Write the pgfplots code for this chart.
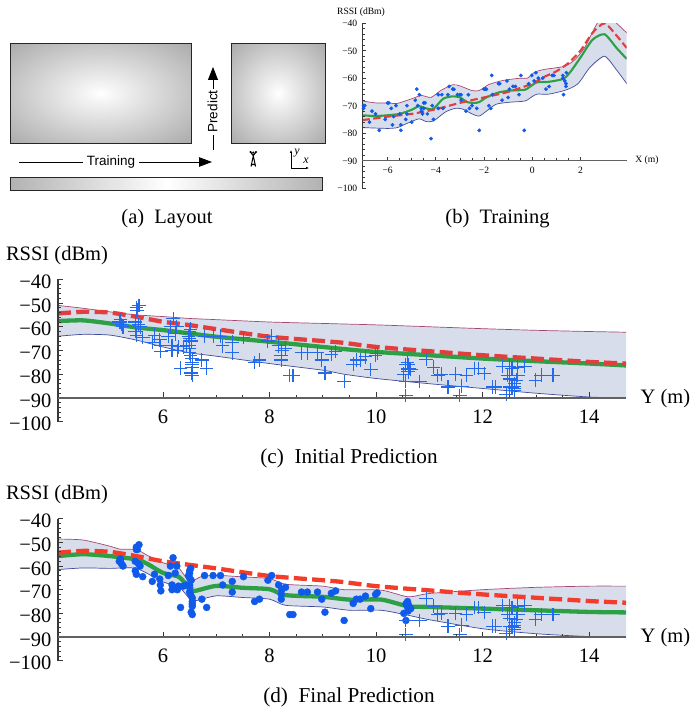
\documentclass[border=0pt]{standalone}
\usepackage{fontspec}
\setmainfont{Liberation Serif}
\setsansfont{Liberation Sans}
\usepackage{pgfplots}
\usepackage{pgfplotstable}
\pgfplotsset{compat=1.18}
\usetikzlibrary{arrows.meta}
\definecolor{bandc}{RGB}{216,221,235}
\definecolor{upc}{RGB}{165,70,115}
\definecolor{loc}{RGB}{65,75,155}
\definecolor{grn}{RGB}{45,160,70}
\definecolor{redc}{RGB}{226,62,62}
\definecolor{redd}{RGB}{243,60,42}
\definecolor{dotc}{RGB}{15,90,235}
\definecolor{plusc}{RGB}{35,105,235}
\newcommand{\fbig}{\fontsize{20.5}{24}\selectfont}
\newcommand{\fcap}{\fontsize{21.2}{24}\selectfont}
\newcommand{\fsmall}{\fontsize{9.6}{11}\selectfont}
\pgfdeclareradialshading{glow}{\pgfpoint{0bp}{0bp}}{color(0bp)=(white); color(5bp)=(black!5); color(35.4bp)=(black!33); color(50bp)=(black!33)}

% ---- Training (b)
\pgfplotstableread{
x y
-7.0 -71
-7.0 -70
-6.95 -70
-6.75 -76
-6.65 -72
-6.5 -73
-6.35 -79
-6.1 -75
-6.0 -69
-5.95 -69
-5.85 -71
-5.8 -77
-5.75 -74
-5.65 -70
-5.5 -73
-5.45 -77
-5.45 -79
-5.25 -75
-5.2 -70
-5.2 -73
-5.0 -76
-4.85 -68
-4.75 -70
-4.6 -72
-4.79 -64
-4.68 -66
-4.6 -71
-4.55 -73
-4.5 -71
-4.5 -69
-4.45 -69
-4.35 -73
-4.2 -82
-4.15 -70
-4.1 -75
-3.9 -66
-3.9 -71
-3.75 -66
-3.7 -71
-3.5 -66
-3.45 -63
-3.3 -64
-3.25 -64
-3.1 -66
-3.0 -66
-2.95 -66
-2.95 -68
-2.75 -72
-2.65 -66
-2.6 -71
-2.5 -70
-2.3 -71
-2.2 -79
-2.0 -64
-1.95 -64
-1.9 -64
-1.8 -70
-1.72 -71
-1.68 -59
-1.65 -66
-1.4 -62
-1.35 -62
-1.25 -68
-1.05 -61
-1.0 -67
-0.95 -64
-0.8 -63
-0.7 -63
-0.55 -66
-0.47 -59
-0.33 -79
-0.15 -62
-0.02 -59
0.08 -61
0.15 -58
0.25 -60
0.43 -60
0.57 -64
0.7 -63
0.83 -59
0.9 -59
1.27 -59
1.27 -60
1.3 -66
1.35 -61
1.4 -62
1.4 -63
1.42 -58
}\trainpts

% ---- prediction points left of the 10.5 m mark
\pgfplotstableread{
x y
5.2 -57
5.2 -58
5.22 -59
5.25 -60
5.18 -58
5.5 -52
5.52 -53
5.55 -51
5.5 -53
5.48 -58
5.48 -62
5.5 -63.5
5.57 -60
5.54 -59
5.62 -64.5
5.8 -66.5
5.84 -63.5
5.94 -65.5
5.95 -68
5.96 -70.5
6.1 -64
6.14 -60
6.17 -68
6.19 -56.5
6.17 -70
6.23 -63
6.26 -60
6.27 -70
6.33 -77.5
6.29 -68.5
6.38 -68.5
6.45 -68
6.48 -64
6.5 -63
6.5 -62
6.52 -61
6.5 -65
6.53 -66
6.5 -68
6.5 -69
6.5 -71
6.52 -72
6.55 -73.5
6.55 -75
6.55 -76
6.55 -77
6.53 -79.5
6.55 -80.5
6.73 -74
6.82 -77.5
6.78 -64
6.94 -64
7.08 -64
7.12 -68
7.3 -66.5
7.3 -71
7.51 -64.5
7.72 -75
7.81 -74
7.97 -66
8.04 -64
8.17 -68
8.22 -72
8.23 -70
8.22 -74
8.3 -69
8.38 -80.5
8.44 -80.5
8.6 -71
8.71 -71
8.9 -71
8.98 -74
9.04 -79.5
9.16 -71.5
9.24 -70.5
9.4 -83
9.57 -75.8
9.63 -74
9.7 -74
9.8 -72.7
9.9 -78
9.99 -72
10.02 -71.3
10.52 -80
10.56 -76
10.59 -75
10.6 -77.5
10.6 -76
10.6 -78
10.6 -79
10.63 -77.6
10.65 -78
10.56 -83
}\ptsA
% ---- points not yet used in the final prediction
\pgfplotstableread{
x y
10.56 -83
10.56 -89
10.82 -83
10.94 -73.8
11.08 -77
11.16 -80.5
11.22 -80
11.35 -85.4
11.49 -80
11.57 -89
11.61 -85
11.7 -80.4
11.84 -77.6
11.93 -77.6
12.03 -79.7
12.19 -85.4
12.24 -85.4
12.38 -76.6
12.44 -88.5
12.47 -80.4
12.5 -76.6
12.5 -85.4
12.5 -82
12.55 -77.5
12.55 -85.4
12.6 -85
12.6 -86
12.6 -87
12.6 -84
12.65 -77
12.66 -80.4
12.63 -82.5
12.79 -76.6
12.99 -82.5
13.1 -80.4
13.32 -80.4
}\ptsB

\pgfplotsset{
  % y axis and data
  ya/.style={
    scale only axis,
    axis x line=none,
    axis y line=left,
    axis line style={-,black!78,line width=1.3pt},
    tick align=inside,
    tick style={black!78,line width=0.8pt},
    clip=true,
    axis on top,
    ymin=-100,ymax=-40,
    ytick={-100,-90,-80,-70,-60,-50,-40},
    minor y tick num=4,
  },
  % x axis, lying at -90
  xa/.style={
    scale only axis,
    axis y line=none,
    axis x line=bottom,
    axis line style={-,black!62,line width=1.5pt},
    tick align=inside,
    tick style={black!78,line width=0.8pt},
    ymin=-90,ymax=-40,
    minor x tick num=3,
  },
  widey/.style={ya,width=568pt,xmin=4.03,xmax=14.69,
    yticklabels={−100,−90,−80,−70,−60,−50,−40},
    major tick length=5.5pt,minor tick length=3pt,
    tick label style={font=\fbig},
    yticklabel style={xshift=-3pt,yshift=-2.5pt},
  },
  widex/.style={xa,width=568pt,xmin=4.03,xmax=14.69,
    xtick={6,8,10,12,14},
    xticklabels={6,8,10,12,14},
    major tick length=5.5pt,minor tick length=3pt,
    tick label style={font=\fbig},
    xticklabel style={yshift=-8.5pt},
  },
  upl/.style={upc,line width=0.7pt,smooth,tension=0.4},
  lol/.style={loc,line width=0.7pt,smooth,tension=0.4},
  gl/.style={grn,line width=4.3pt,smooth,tension=0.4},
  rl/.style={#1,line width=4.3pt,smooth,tension=0.4,dash pattern=on 13pt off 5.3pt},
  plm/.style={only marks,mark=+,mark size=6.8pt,mark options={plusc,line width=1.1pt}},
  band/.style={fill=bandc,draw=none},
}

\begin{document}
\begin{tikzpicture}
\useasboundingbox (0pt,0pt) rectangle (690pt,709pt);

% ---------- (a) layout
\begin{scope}[x=1pt,y=-1pt,shift={(0pt,709pt)}]
\shade[shading=glow] (10,43.5) rectangle (191,143);
\draw[line width=0.9pt,black!85] (10,43.5) rectangle (191,143);
\shade[shading=glow] (231.5,43.5) rectangle (325,143);
\draw[line width=0.9pt,black!85] (231.5,43.5) rectangle (325,143);
\draw[line width=0.9pt,black!85,left color=black!30,right color=black!30,middle color=white] (10,177.5) rectangle (322,190);
\draw[line width=0.8pt] (19,162) -- (83,162);
\draw[line width=0.8pt,-{Triangle[length=13pt,width=9.5pt]}] (139,162) -- (212,162);
\node[font=\sffamily\fontsize{13.5}{15}\selectfont] at (111,162.5) {Training};
\draw[line width=0.8pt] (213,150) -- (213,135);
\draw[line width=0.8pt,-{Triangle[length=13pt,width=10pt]}] (213,89) -- (213,67);
\node[font=\sffamily\fontsize{13.5}{15}\selectfont,rotate=90] at (212.5,111.5) {Predict};
% antenna
\draw[line width=1pt,black] (253.3,156) -- (251,166.5) arc[start angle=180,end angle=360,radius=2.3] -- cycle;
\draw[line width=1.2pt,black] (250.5,152) -- (253.3,155.5) -- (256,152);
\fill (250.5,152) circle (1.1pt) (256,152) circle (1.1pt) (253.3,152.5) circle (1.1pt);
% compass
\draw[line width=0.6pt,-{Latex[length=3pt,width=2.5pt]}] (291,168) -- (291,150);
\draw[line width=0.6pt,-{Latex[length=3pt,width=2.5pt]}] (291,168) -- (309,168);
\node[font=\fontsize{12}{14}\selectfont\itshape] at (297,153) {y};
\node[font=\fontsize{12}{14}\selectfont\itshape] at (306,161) {x};
% captions and labels
\node[font=\fbig] at (167,219) {(a)\ \ Layout};
\node[font=\fbig] at (497.5,219) {(b)\ \ Training};
\node[font=\fcap] at (349,458.5) {(c)\ \ Initial Prediction};
\node[font=\fcap] at (349,697.5) {(d)\ \ Final Prediction};
\node[font=\fbig] at (57,255.5) {RSSI (dBm)};
\node[font=\fbig] at (57,495) {RSSI (dBm)};
\node[font=\fbig] at (665.5,398.5) {Y (m)};
\node[font=\fbig] at (665.5,638) {Y (m)};
\node[font=\fsmall] at (361,12) {RSSI (dBm)};
\node[font=\fsmall] at (647,160.5) {X (m)};
\end{scope}

% ---------- (b) training
\begin{axis}[ya,at={(362.3pt,521pt)},anchor=south west,width=264.4pt,height=164.7pt,
  xmin=-7.05,xmax=3.92,
  yticklabels={−100,−90,−80,−70,−60,−50,−40},
  major tick length=3.6pt,minor tick length=2.2pt,
  tick label style={font=\fsmall},
  yticklabel style={xshift=-1.5pt,yshift=-0.5pt},
]
\addplot[band] coordinates {(-7.05,-68.3)(-6.5,-69)(-6,-69)(-5.6,-69.2)(-5,-67.5)(-4.6,-66.3)(-4.2,-67)(-3.8,-64.5)(-3.3,-62.4)(-3,-62.8)(-2.5,-64.5)(-2.2,-64.5)(-1.8,-62.3)(-1.2,-60.8)(-0.5,-60)(-0.2,-60)(0.1,-57.8)(0.5,-56.8)(1,-56.2)(1.4,-55.5)(1.8,-53)(2.2,-48.5)(2.6,-41.5)(3,-36.5)(3.5,-40)(3.92,-43.5)
 (3.92,-62)(3.5,-57)(3,-52)(2.4,-56)(1.9,-62)(1.4,-64.3)(0.7,-65.8)(0.2,-65.8)(0,-66.7)(-0.3,-68.3)(-1,-68.8)(-1.5,-69.5)(-1.9,-72)(-2.2,-73.8)(-2.5,-73)(-2.9,-71.2)(-3.2,-71)(-3.6,-72.3)(-4.1,-75.6)(-4.4,-75.8)(-4.7,-74.8)(-5.2,-76.5)(-5.6,-78)(-6,-78.3)(-7.05,-78)} -- cycle;
\addplot[upl] coordinates {(-7.05,-68.3)(-6.5,-69)(-6,-69)(-5.6,-69.2)(-5,-67.5)(-4.6,-66.3)(-4.2,-67)(-3.8,-64.5)(-3.3,-62.4)(-3,-62.8)(-2.5,-64.5)(-2.2,-64.5)(-1.8,-62.3)(-1.2,-60.8)(-0.5,-60)(-0.2,-60)(0.1,-57.8)(0.5,-56.8)(1,-56.2)(1.4,-55.5)(1.8,-53)(2.2,-48.5)(2.6,-41.5)(3,-36.5)(3.5,-40)(3.92,-43.5)};
\addplot[lol] coordinates {(-7.05,-78)(-6,-78.3)(-5.6,-78)(-5.2,-76.5)(-4.7,-74.8)(-4.4,-75.8)(-4.1,-75.6)(-3.6,-72.3)(-3.2,-71)(-2.9,-71.2)(-2.5,-73)(-2.2,-73.8)(-1.9,-72)(-1.5,-69.5)(-1,-68.8)(-0.3,-68.3)(0,-66.7)(0.2,-65.8)(0.7,-65.8)(1.4,-64.3)(1.9,-62)(2.4,-56)(3,-52)(3.5,-57)(3.92,-62)};
\addplot[grn,line width=2.1pt,smooth,tension=0.4] coordinates {(-7.05,-73.5)(-6.5,-73.8)(-6,-73.5)(-5.5,-73)(-5,-71.5)(-4.7,-70.2)(-4.4,-71)(-4.1,-71.2)(-3.7,-67.5)(-3.3,-66.6)(-3,-67)(-2.7,-68.7)(-2.4,-69)(-2.2,-68.7)(-1.9,-67)(-1.4,-65.2)(-0.9,-64.5)(-0.3,-64.2)(0,-62.5)(0.2,-61.5)(0.7,-61.3)(1.3,-60.2)(1.6,-57.5)(2,-52.5)(2.5,-46)(3,-44)(3.5,-49)(3.92,-53)};
\addplot[redc,line width=2.1pt,smooth,tension=0.4,dash pattern=on 7.5pt off 3.5pt] coordinates {(-7.05,-75.3)(-6,-74)(-5,-73)(-4,-71.3)(-3,-69)(-2,-67)(-1,-65)(0,-62)(0.5,-59.5)(1,-57.5)(1.5,-54.5)(2,-50)(2.5,-43.5)(3,-40)(3.5,-44.5)(3.92,-49)};
\addplot[only marks,mark=*,mark size=1.7pt,mark options={dotc}] table {\trainpts};
\end{axis}
\begin{axis}[xa,at={(362.3pt,548.45pt)},anchor=south west,width=264.4pt,height=137.25pt,
  xmin=-7.05,xmax=3.92,
  xtick={-6,-4,-2,0,2},
  xticklabels={−6,−4,−2,0,2},
  major tick length=3.6pt,minor tick length=2.2pt,
  tick label style={font=\fsmall},
  xticklabel style={yshift=-3pt},
]
\end{axis}

% ---------- (c) initial prediction
\begin{axis}[widey,at={(58pt,287.3pt)},anchor=south west,height=142.4pt]
\addplot[band] coordinates {(4.03,-51)(4.5,-52.2)(5,-53.7)(5.5,-55)(6,-55.7)(6.5,-56.5)(7,-57)(8,-58)(9,-58.6)(10,-59.2)(11,-60)(12,-60.8)(13,-61.5)(14,-62)(14.69,-62.3)
 (14.69,-90)(14,-89.6)(13,-88)(12,-86)(11,-84)(10,-81.8)(9.4,-80)(9,-78.3)(8,-75.5)(7,-72.4)(6.5,-71)(6,-68.5)(5.5,-65.6)(5,-63.5)(4.5,-63.2)(4.03,-64)} -- cycle;
\addplot[upl] coordinates {(4.03,-51)(4.5,-52.2)(5,-53.7)(5.5,-55)(6,-55.7)(6.5,-56.5)(7,-57)(8,-58)(9,-58.6)(10,-59.2)(11,-60)(12,-60.8)(13,-61.5)(14,-62)(14.69,-62.3)};
\addplot[lol] coordinates {(4.03,-64)(4.5,-63.2)(5,-63.5)(5.5,-65.6)(6,-68.5)(6.5,-71)(7,-72.4)(8,-75.5)(9,-78.3)(9.4,-80)(10,-81.8)(11,-84)(12,-86)(13,-88)(14,-89.6)(14.69,-90)};
\addplot[gl] coordinates {(4.03,-57.6)(4.5,-57.3)(5,-58.6)(5.5,-60.3)(6,-61.4)(6.5,-62.8)(7,-64.2)(8,-66.3)(9,-68.5)(9.4,-69.4)(10,-70.6)(11,-72)(12,-73.4)(13,-74.5)(14,-75.5)(14.69,-76.3)};
\addplot[rl=redc] coordinates {(4.03,-54.4)(4.5,-53.7)(5,-54)(5.5,-55.8)(6,-57.9)(6.5,-59.3)(7,-61)(8,-64.2)(9,-66)(9.4,-66.8)(10,-68.5)(11,-70.3)(12,-72)(13,-73.4)(14,-74.8)(14.69,-75.5)};
\addplot[plm] table {\ptsA};
\addplot[plm] table {\ptsB};
\end{axis}
\begin{axis}[widex,at={(58pt,311.03pt)},anchor=south west,height=118.67pt]
\end{axis}

% ---------- (d) final prediction
\begin{axis}[widey,at={(58pt,48.3pt)},anchor=south west,height=142pt]
\addplot[band] coordinates {(4.03,-48.6)(4.5,-49)(5,-51.6)(5.2,-52.9)(5.5,-53)(5.7,-55.4)(6,-58.6)(6.3,-61)(6.5,-66.7)(6.7,-64.6)(7,-63.9)(7.5,-64.6)(8,-65.3)(8.3,-67.7)(9,-68.5)(9.4,-70)(10.1,-70.2)(10.6,-73)(11,-71.6)(12,-70)(13,-69)(14,-68.5)(14.69,-68.5)
 (14.69,-90)(14,-89.8)(13,-88.6)(12,-86.5)(11,-82.7)(10.6,-80.8)(10.1,-78.7)(9.5,-78.7)(9,-77.3)(8.3,-76.6)(8,-74)(7.5,-73.3)(7,-72.6)(6.6,-74.7)(6.5,-73.8)(6.3,-68.8)(6,-66.7)(5.5,-61)(5,-61)(4.5,-60.8)(4.03,-61.5)} -- cycle;
\addplot[upl] coordinates {(4.03,-48.6)(4.5,-49)(5,-51.6)(5.2,-52.9)(5.5,-53)(5.7,-55.4)(6,-58.6)(6.3,-61)(6.5,-66.7)(6.7,-64.6)(7,-63.9)(7.5,-64.6)(8,-65.3)(8.3,-67.7)(9,-68.5)(9.4,-70)(10.1,-70.2)(10.6,-73)(11,-71.6)(12,-70)(13,-69)(14,-68.5)(14.69,-68.5)};
\addplot[lol] coordinates {(4.03,-61.5)(4.5,-60.8)(5,-61)(5.5,-61)(6,-66.7)(6.3,-68.8)(6.5,-73.8)(6.6,-74.7)(7,-72.6)(7.5,-73.3)(8,-74)(8.3,-76.6)(9,-77.3)(9.5,-78.7)(10.1,-78.7)(10.6,-80.8)(11,-82.7)(12,-86.5)(13,-88.6)(14,-89.8)(14.69,-90)};
\addplot[gl] coordinates {(4.03,-55.8)(4.5,-55)(5,-55.8)(5.5,-57.2)(5.7,-59)(6,-62.9)(6.3,-64.6)(6.5,-69.5)(6.6,-70.5)(7,-68.4)(7.5,-69.2)(8,-69.8)(8.3,-72.3)(9,-73)(9.5,-74.2)(10.1,-74.2)(10.6,-77)(11,-77.3)(12,-78)(13,-78.7)(14,-79.4)(14.69,-79.6)};
\addplot[rl=redd] coordinates {(4.03,-54.4)(4.5,-53.6)(5,-54)(5.5,-55.8)(6,-58)(6.5,-59.5)(7,-61)(8,-64.2)(9,-66)(9.4,-66.8)(10,-68.5)(11,-70.3)(12,-72)(13,-73.4)(14,-74.8)(14.69,-75.5)};
\addplot[only marks,mark=*,mark size=3.5pt,mark options={dotc}] table {\ptsA};
\addplot[plm] table {\ptsB};
\end{axis}
\begin{axis}[widex,at={(58pt,71.97pt)},anchor=south west,height=118.33pt]
\end{axis}
\end{tikzpicture}
\end{document}
